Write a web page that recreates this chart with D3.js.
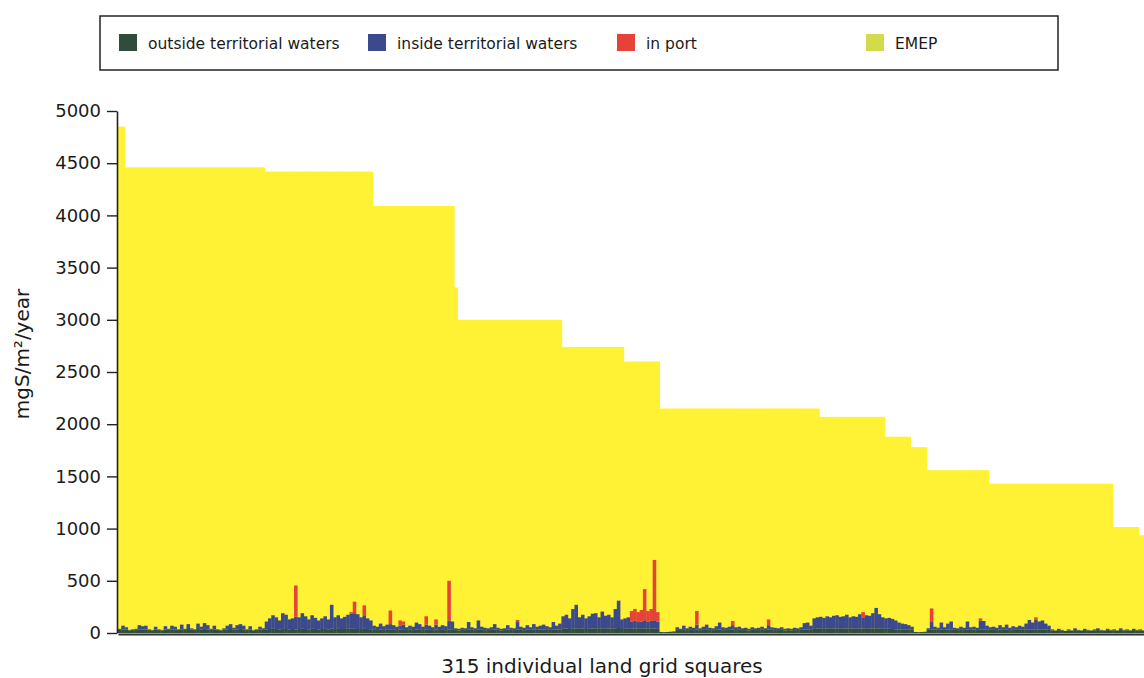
<!DOCTYPE html>
<html>
<head>
<meta charset="utf-8">
<script src="https://cdn.jsdelivr.net/npm/d3@7"></script>
<style>
  html, body { margin: 0; padding: 0; background: #ffffff; }
  svg { display: block; font-family: "DejaVu Sans", "Liberation Sans", sans-serif; }
</style>
</head>
<body>
<svg id="chart" width="1144" height="678"></svg>
<script>
// EMEP deposition (mgS/m2/year) for each EMEP cell, and how many land grid squares fall in that cell
const emepLevels  = [4850, 4460, 4420, 4090, 3310, 3000, 2740, 2600, 2150, 2070, 1880, 1780, 1560, 1430, 1015, 936];
const emepSquares = [2, 43, 33, 25, 1, 32, 19, 11, 49, 20, 8, 5, 19, 38, 8, 2];

// Ship deposition per land grid square (mgS/m2/year), same order as the EMEP cells
const outsideTerritorial = [
  30,35,32,25,28,30,35,33,35,28, 25,32,28,25,33,30,35,32,28,35, 30,38,32,28,38,33,40,35,30,35, 28,25,32,35,38,33,35,38,35,28, 32,25,28,32,30,
  35,38,40,38,35,40,38,35,38,35, 38,40,38,35,40,38,35,38,40,35, 42,38,40,38,38,40,40,40,38,38, 40,38,35,
  30,28,32,30,30,35,30,28,32,30, 28,30,28,32,30,28,35,30,28,32, 28,30,28,35,30,
  28,25,30,28,35,30,28,35,30,28, 28,30,32,30,25,28,32,30,28,35, 30,28,32,30,32,30,32,32,30,30, 35,32,35,
  40,42,38,45,45,40,42,38,40,42, 45,40,45,40,42,40,45,48,38,
  40,40,40,42,40,40,42,40,42,42,40,
  10,8,10,12,15,30,28,30,28,30, 28,32,28,30,30,28,28,30,32,28, 28,30,32,28,30,28,28,25,30,28, 28,30,28,32,30,28,28,30,25,28, 25,28,28,30,32,32,30,
  40,42,40,40,42,40,42,42,40,42, 42,40,42,40,42,42,40,42,42,45, 42,40,40,40,38,35,35,
  35,35,32,30,10,8,10,12,
  30,35,32,30,32,30,32,35,30,28, 30,28,32,30,32,28,35,32,30,30, 30,28,32,30,32,28,30,30,32,30, 32,35,32,35,32,35,32,30,
  25,20,28,25,20,25,20,28,25,20, 28,25,20,25,28,25,20,28,25,25, 20,28,25,25,20,28,25,25,20
];

const insideTerritorial = [
  10,35,23,5,7,10,40,32,35,7, 5,28,7,5,32,10,35,28,7,45, 10,47,13,7,52,27,55,40,10,35, 7,5,13,35,47,17,40,47,35,7, 33,5,7,28,15,
  75,102,130,112,85,150,137,95,102,120, 112,150,122,95,130,107,85,102,120,95, 228,112,130,102,117,135,145,150,142,112, 130,102,85,
  40,32,58,35,50,50,45,32,38,50, 27,40,32,68,55,32,45,40,27,48, 32,45,37,85,80,
  17,15,20,17,70,25,17,85,30,22, 17,25,53,20,15,17,43,20,17,70, 30,22,43,25,53,30,38,48,35,25, 70,38,55,
  120,133,102,185,225,110,133,102,120,143, 145,110,160,125,133,110,185,262,92,
  100,110,70,75,65,70,80,70,75,80,70,
  0,0,0,0,0,25,12,40,17,30, 22,48,17,30,50,22,17,35,68,27, 22,30,43,27,30,17,22,15,25,17, 22,30,17,43,25,22,17,25,15,17, 15,22,17,25,63,68,40,
  100,108,115,105,118,110,123,128,115,118, 133,110,118,115,138,108,130,123,148,195, 138,110,100,105,97,85,65,
  55,50,43,30,0,0,0,0,
  15,70,28,20,68,25,58,75,20,17, 30,22,78,25,28,22,85,83,40,25, 30,22,43,25,48,22,35,25,38,30, 58,90,68,90,78,85,58,40,
  10,5,12,5,0,10,5,17,5,5, 12,5,5,10,17,5,5,12,5,10, 5,17,5,10,5,12,5,10,5
];

const inPort = [
  0,0,0,0,0,0,0,0,0,0, 0,0,0,0,0,0,0,0,0,0, 0,0,0,0,0,0,0,0,0,0, 0,0,0,0,0,0,0,0,0,0, 0,0,0,0,0,
  0,0,0,0,0,0,0,0,0,300, 0,0,0,0,0,0,0,0,0,0, 0,0,0,0,0,0,15,110,0,0, 95,0,0,
  0,0,0,0,0,130,0,0,50,30, 0,0,0,0,0,0,80,0,0,50, 0,0,0,380,0,
  0,0,0,0,0,0,0,0,0,0, 0,0,0,0,0,0,0,0,0,20, 0,0,0,0,0,0,0,0,0,0, 0,0,0,
  0,0,0,0,0,0,0,0,0,0, 0,0,0,0,0,0,0,0,0,
  0,0,100,113,95,110,298,100,113,578,90,
  0,0,0,0,0,0,0,0,0,0, 0,130,0,0,0,0,0,0,0,0, 0,0,40,0,0,0,0,0,0,0, 0,0,0,55,0,0,0,0,0,0, 0,0,0,0,0,0,0,
  0,0,0,0,0,0,0,0,0,0, 0,0,0,0,0,50,0,0,0,0, 0,0,0,0,0,0,0,
  0,0,0,0,0,0,0,0,
  0,130,0,0,0,0,0,0,0,0, 0,0,0,0,0,0,20,0,0,0, 0,0,0,0,0,0,0,0,0,0, 0,0,0,25,0,0,0,0,
  0,0,0,0,0,0,0,0,0,0, 0,0,0,0,0,0,0,0,0,0, 0,0,0,0,0,0,0,0,0
];

const yTicks = [0, 500, 1000, 1500, 2000, 2500, 3000, 3500, 4000, 4500, 5000];
const seriesNames = ["outside territorial waters", "inside territorial waters", "in port", "EMEP"];
const yTitle = "mgS/m\u00B2/year";
const xTitle = "315 individual land grid squares";

// ---- layout ----
const svg = d3.select("#chart");
const plot = { left: 117, right: 1145, top: 111, bottom: 633 };

const emep = emepLevels.flatMap((v, k) => d3.range(emepSquares[k]).map(() => v));
const squares = d3.range(emep.length);

const rows = squares.map(i => ({
  i,
  outside: outsideTerritorial[i],
  inside: insideTerritorial[i],
  port: inPort[i],
  emep: emep[i]
}));

const x = d3.scaleBand().domain(squares).range([plot.left + 1, plot.right]).padding(0);
const y = d3.scaleLinear().domain([0, 5000]).range([plot.bottom, plot.top]);

const colors = {
  outside: "#2f4c3c",
  inside: "#3b4a8c",
  port: "#e5423a",
  emep: "#fff134"
};

// EMEP background bars
svg.append("g")
  .selectAll("rect")
  .data(rows)
  .join("rect")
  .attr("x", d => x(d.i))
  .attr("width", x.bandwidth() + 0.8)
  .attr("y", d => y(d.emep))
  .attr("height", d => y(0) - y(d.emep))
  .attr("fill", colors.emep);

// Ship contributions stacked from the baseline
const stack = d3.stack().keys(["outside", "inside", "port"]);
const layers = stack(rows);

svg.append("g")
  .selectAll("g")
  .data(layers)
  .join("g")
  .attr("fill", d => colors[d.key])
  .selectAll("rect")
  .data(d => d.filter(p => p[1] > p[0]))
  .join("rect")
  .attr("x", p => x(p.data.i))
  .attr("width", x.bandwidth() + 0.3)
  .attr("y", p => y(p[1]))
  .attr("height", p => y(p[0]) - y(p[1]));

// Axes
const yAxis = d3.axisLeft(y).tickValues(yTicks).tickSize(10).tickSizeOuter(0).tickPadding(6)
  .tickFormat(d3.format("d"));
const gy = svg.append("g").attr("transform", `translate(${plot.left},0)`).call(yAxis);
gy.select(".domain").attr("stroke", "#222").attr("stroke-width", 1.6);
gy.selectAll(".tick line").attr("stroke", "#222").attr("stroke-width", 1.4);
gy.selectAll(".tick text").attr("fill", "#1b1b1b").style("font-size", "18px")
  .style("font-family", "'DejaVu Sans', sans-serif");

const xAxis = d3.axisBottom(x).tickValues([]).tickSizeOuter(0);
const gx = svg.append("g").attr("transform", `translate(0,${plot.bottom + 1})`).call(xAxis);
gx.select(".domain").attr("stroke", "#2a3236").attr("stroke-width", 2);

// Axis titles
svg.append("text")
  .attr("transform", `translate(29,${(plot.top + plot.bottom) / 2 - 18}) rotate(-90)`)
  .attr("text-anchor", "middle")
  .attr("fill", "#1b1b1b")
  .style("font-size", "20px")
  .text(yTitle);

svg.append("text")
  .attr("x", 602)
  .attr("y", 673)
  .attr("text-anchor", "middle")
  .attr("fill", "#1b1b1b")
  .style("font-size", "20px")
  .text(xTitle);

// Legend
const legend = svg.append("g");
legend.append("rect")
  .attr("x", 100).attr("y", 16).attr("width", 958).attr("height", 54)
  .attr("fill", "#fff").attr("stroke", "#222").attr("stroke-width", 1.5);

const legendColors = [colors.outside, colors.inside, colors.port, "#d3db4c"];
const legendX = [119, 368, 617, 866];
const item = legend.selectAll("g.item")
  .data(seriesNames)
  .join("g")
  .attr("class", "item")
  .attr("transform", (d, k) => `translate(${legendX[k]},0)`);
item.append("rect")
  .attr("x", 0).attr("y", 34).attr("width", 18).attr("height", 17)
  .attr("fill", (d, k) => legendColors[k]);
item.append("text")
  .attr("x", 29).attr("y", 49)
  .attr("fill", "#1b1b1b")
  .style("font-size", "15.5px")
  .text(d => d);
</script>
</body>
</html>
